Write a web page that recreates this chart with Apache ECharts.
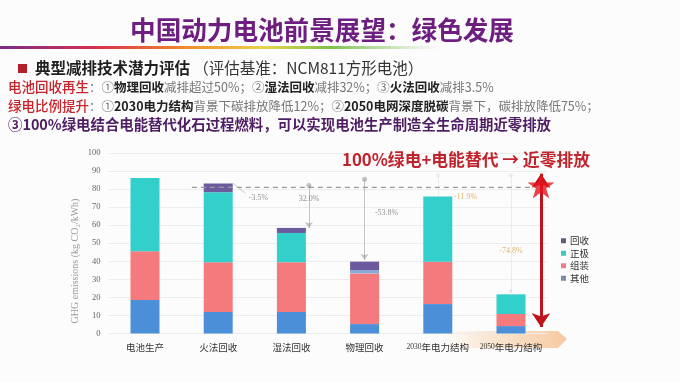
<!DOCTYPE html>
<html>
<head>
<meta charset="utf-8">
<script src="https://cdn.jsdelivr.net/npm/echarts@6/dist/echarts.min.js"></script>
<style>
html,body{margin:0;padding:0;background:#fcfcfc;}
#chart{width:680px;height:382px;}
</style>
</head>
<body>
<div id="chart"></div>
<script>
// ---- data ----
const categories = ['电池生产', '火法回收', '湿法回收', '物理回收', '2030年电力结构', '2050年电力结构'];
const seriesNames = ['其他', '组装', '正极', '回收'];
const otherVals    = [18.5, 11.9, 11.9, 5.2, 16.3, 4.1];
const assemblyVals = [27.1, 27.6, 27.6, 28.1, 23.4, 6.7];
const cathodeVals  = [40.5, 38.8, 16.2, 1.7, 36.2, 10.9];
const recycleVals  = [0, 4.8, 2.8, 4.8, 0, 0];
const yTicks = [0, 10, 20, 30, 40, 50, 60, 70, 80, 90, 100];
const refLevel = 81;
const reductionLabels = ['-3.5%', '32.0%', '-53.8%', '-11.9%', '-74.8%'];
const barTops = [86.1, 83.3, 58.5, 39.8, 75.9, 21.7];

const COLORS = { '其他': '#4b8fd9', '组装': '#f47a7e', '正极': '#33cfcb', '回收': '#6b5a9e' };
const LEGEND_COLORS = { '回收': '#5d6078', '正极': '#3cc9c2', '组装': '#ef8088', '其他': '#7d8ba6' };

const chart = echarts.init(document.getElementById('chart'), null, { renderer: 'canvas' });
const CJK = '"Noto Sans CJK SC", "Noto Sans", sans-serif';
const SERIF = '"Liberation Serif", "DejaVu Serif", serif';

function barSeries(name, vals) {
  return {
    name: name, type: 'bar', stack: 'total', barWidth: 29,
    xAxisIndex: 0, yAxisIndex: 0,
    itemStyle: { color: COLORS[name] },
    data: vals.map((v, i) => {
      if (name === '正极' && i === 3) return { value: v, itemStyle: { color: '#86acd8' } };
      return v;
    }),
    z: 3
  };
}

const greyLine = { color: '#8a8a8a', width: 1 };
const faintLine = { color: '#dcdcdc', width: 1 };

const option = {
  backgroundColor: '#fcfcfc',
  animation: false,
  grid: { left: 108.4, right: 132.4, top: 153, bottom: 48.5 },
  xAxis: [
    {
      type: 'category', data: categories, gridIndex: 0,
      axisLine: { show: false }, axisTick: { show: false },
      axisLabel: {
        interval: 0, margin: 9,
        formatter: function (v) {
          const m = v.match(/^(\d+)(.*)$/);
          if (m) return '{d|' + m[1] + '}{c|' + m[2] + '}';
          return '{c|' + v + '}';
        },
        rich: {
          c: { fontFamily: CJK, fontSize: 9.5, color: '#333' },
          d: { fontFamily: SERIF, fontSize: 7.5, color: '#333' }
        }
      }
    },
    { type: 'value', gridIndex: 0, min: -0.5, max: 5.5, show: false }
  ],
  yAxis: [{
    type: 'value', min: yTicks[0], max: yTicks[yTicks.length - 1], interval: 10,
    axisLine: { show: false }, axisTick: { show: false },
    splitLine: { lineStyle: { color: '#ececec', width: 1 } },
    axisLabel: { margin: 8, fontFamily: SERIF, fontSize: 8.5, color: '#666' }
  }],
  legend: {
    orient: 'vertical', left: 556, top: 231,
    itemWidth: 5, itemHeight: 5, itemGap: 3, icon: 'rect',
    textStyle: { fontFamily: CJK, fontSize: 9.5, color: '#333', padding: [0, 0, 0, -1] },
    data: ['回收', '正极', '组装', '其他'].map(n => ({ name: n, itemStyle: { color: LEGEND_COLORS[n] } }))
  },
  series: [
    barSeries('其他', otherVals),
    barSeries('组装', assemblyVals),
    barSeries('正极', cathodeVals),
    barSeries('回收', recycleVals),
    // reference dashed line
    {
      type: 'line', xAxisIndex: 1, yAxisIndex: 0, symbol: 'none', silent: true, z: 4,
      lineStyle: { color: '#9a9a9a', width: 1.2, type: [5, 4] },
      data: [[0.64, refLevel], [5.26, refLevel]]
    },
    // faint guide lines for 2030/2050
    {
      type: 'lines', coordinateSystem: 'cartesian2d', xAxisIndex: 1, yAxisIndex: 0, z: 4,
      symbol: ['circle', 'none'], symbolSize: 4, lineStyle: faintLine,
      data: [
        { coords: [[4, 87.5], [4, barTops[4]]] },
        { coords: [[5, 87.5], [5, barTops[5]]] }
      ]
    },
    {
      type: 'scatter', xAxisIndex: 1, yAxisIndex: 0, symbolSize: 3, z: 4,
      itemStyle: { color: '#d8d8d8' },
      data: [[5, 23.6]]
    },
    // grey arrows
    {
      type: 'lines', coordinateSystem: 'cartesian2d', xAxisIndex: 1, yAxisIndex: 0, z: 5,
      symbol: ['circle', 'arrow'], symbolSize: [5, 6], lineStyle: greyLine,
      data: [
        { coords: [[2.24, 82], [2.24, barTops[2]]] },
        { coords: [[3.0, 85.5], [3.0, barTops[3] + 1]] }
      ]
    },
    // leader for -3.5%
    {
      type: 'lines', coordinateSystem: 'cartesian2d', xAxisIndex: 1, yAxisIndex: 0, z: 5,
      symbol: ['none', 'none'], lineStyle: { color: '#9a9a9a', width: 1 },
      data: [{ coords: [[1.2, barTops[1]], [1.37, 77.8]] }]
    },
    // percentage labels
    {
      type: 'scatter', xAxisIndex: 1, yAxisIndex: 0, symbolSize: 0, z: 6,
      label: {
        show: true, position: 'inside',
        formatter: p => p.data.t,
        fontFamily: SERIF, fontSize: 8, color: '#777'
      },
      data: [
        { value: [1.55, 75.3], t: reductionLabels[0] },
        { value: [2.24, 74.6], t: reductionLabels[1] },
        { value: [3.3, 66.6], t: reductionLabels[2] },
        { value: [4.38, 75.6], t: reductionLabels[3], label: { color: '#d9a04c' } },
        { value: [5.0, 46], t: reductionLabels[4], label: { color: '#d9a04c' } }
      ]
    },
    // red double arrow
    {
      type: 'lines', coordinateSystem: 'cartesian2d', xAxisIndex: 1, yAxisIndex: 0, z: 7,
      symbol: ['arrow', 'arrow'], symbolSize: [14, 14],
      lineStyle: { color: '#c0141c', width: 3, opacity: 1 },
      data: [{ coords: [[5.41, 88.5], [5.41, 3.6]] }]
    },
    // star
    {
      type: 'scatter', xAxisIndex: 1, yAxisIndex: 0, z: 8,
      symbol: 'path://M50,0 L61.2,34.5 L97.6,34.5 L68.2,55.9 L79.4,90.5 L50,69.1 L20.6,90.5 L31.8,55.9 L2.4,34.5 L38.8,34.5 Z',
      symbolSize: [27, 26],
      itemStyle: { color: '#e3141b' },
      data: [[5.41, 82]]
    }
  ],
  graphic: [
    // ribbon arrow behind the last labels
    {
      type: 'polygon', z: -10, silent: true,
      shape: { points: [[440, 331], [558, 331], [567, 339], [558, 348], [440, 348]] },
      style: {
        fill: new echarts.graphic.LinearGradient(0, 0, 1, 0, [
          { offset: 0, color: 'rgba(250,225,200,0)' },
          { offset: 0.35, color: 'rgba(248,215,180,0.55)' },
          { offset: 1, color: 'rgba(245,195,150,0.9)' }
        ])
      }
    },
    // title
    {
      type: 'text', x: 322, y: 30, z: 10,
      style: { text: '中国动力电池前景展望：绿色发展', fill: '#6e1e80', font: 'bold 25.6px ' + CJK, align: 'center', verticalAlign: 'middle' }
    },
    // gradient rule
    {
      type: 'rect', z: 10, shape: { x: 0, y: 46, width: 440, height: 3 },
      style: {
        fill: new echarts.graphic.LinearGradient(0, 0, 1, 0, [
          { offset: 0, color: '#7a2a8c' },
          { offset: 0.22, color: '#d8304c' },
          { offset: 0.42, color: '#f08a2a' },
          { offset: 0.6, color: '#e9d44a' },
          { offset: 0.75, color: '#7cc24a' },
          { offset: 1, color: 'rgba(140,200,120,0)' }
        ])
      }
    },
    { type: 'rect', z: 10, shape: { x: 18, y: 64, width: 9, height: 9 }, style: { fill: '#b3202a' } },
    {
      type: 'text', z: 10, x: 35, y: 68.5,
      style: {
        text: '{b|典型减排技术潜力评估} {n|（评估基准：NCM811方形电池）}',
        verticalAlign: 'middle',
        rich: {
          b: { font: 'bold 15.5px ' + CJK, fill: '#1f1f1f' },
          n: { font: '15.5px ' + CJK, fill: '#333' }
        }
      }
    },
    {
      type: 'text', z: 10, x: 8, y: 87,
      style: {
        text: '{r|电池回收再生}{g|：①}{b|物理回收}{g|减排超过50%；②}{b|湿法回收}{g|减排32%；③}{b|火法回收}{g|减排3.5%}',
        verticalAlign: 'middle',
        rich: {
          r: { font: '500 13.5px ' + CJK, fill: '#c8232b' },
          g: { font: '12.5px ' + CJK, fill: '#777' },
          b: { font: 'bold 12.5px ' + CJK, fill: '#222' }
        }
      }
    },
    {
      type: 'text', z: 10, x: 8, y: 106,
      style: {
        text: '{r|绿电比例提升}{g|：①}{b|2030电力结构}{g|背景下碳排放降低12%；②}{b|2050电网深度脱碳}{g|背景下，碳排放降低75%；}',
        verticalAlign: 'middle',
        rich: {
          r: { font: '500 13.5px ' + CJK, fill: '#c8232b' },
          g: { font: '12.5px ' + CJK, fill: '#777' },
          b: { font: 'bold 12.5px ' + CJK, fill: '#222' }
        }
      }
    },
    {
      type: 'text', z: 10, x: 8, y: 125,
      style: {
        text: '③100%绿电结合电能替代化石过程燃料，可以实现电池生产制造全生命周期近零排放',
        verticalAlign: 'middle',
        font: 'bold 14.4px ' + CJK, fill: '#4e1d63'
      }
    },
    // headline on chart
    {
      type: 'text', z: 10, x: 342, y: 160,
      style: {
        text: '100%绿电+电能替代 → 近零排放',
        verticalAlign: 'middle',
        font: 'bold 16.8px ' + CJK, fill: '#c0232b'
      }
    },
    // y axis name
    {
      type: 'text', z: 10, x: 75, y: 261, rotation: Math.PI / 2,
      style: {
        text: 'GHG emissions (kg CO₂/kWh)',
        align: 'center', verticalAlign: 'middle',
        font: '10px ' + SERIF, fill: '#9a9a9a'
      }
    }
  ]
};
chart.setOption(option);
</script>
</body>
</html>
